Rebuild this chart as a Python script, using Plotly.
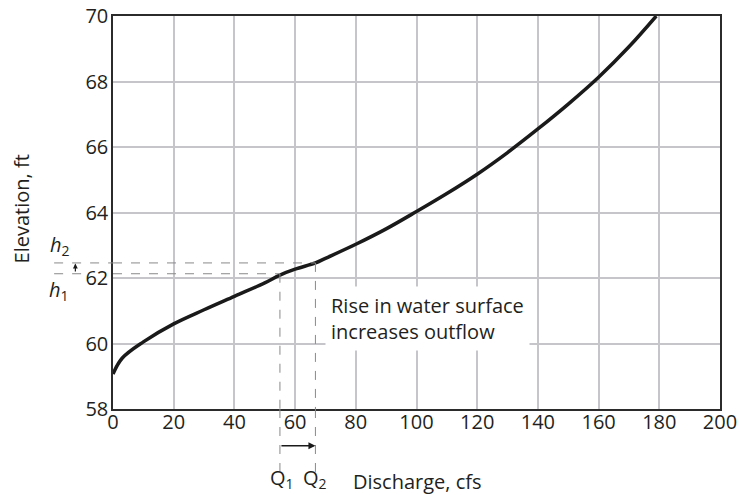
import plotly.graph_objects as go

# Rating curve: discharge (cfs) vs elevation (ft)
discharge = [0, 3, 10, 20, 30, 40, 50, 55, 60, 66.7, 70, 80, 90, 100, 110, 120, 130, 140, 150, 160, 170, 179]
elevation = [59.07, 59.55, 60.05, 60.6, 61.03, 61.44, 61.85, 62.09, 62.27, 62.46, 62.6, 63.03, 63.5, 64.03, 64.58, 65.17, 65.83, 66.55, 67.31, 68.13, 69.06, 70.0]

x_ticks = [0, 20, 40, 60, 80, 100, 120, 140, 160, 180, 200]
y_ticks = [58, 60, 62, 64, 66, 68, 70]

Q1, Q2 = 55.0, 66.7
h1, h2 = 62.13, 62.46

FONT = "'Open Sans', sans-serif"
FS = 20
TXT = "#231f20"
DASH = "#8a8a8a"

fig = go.Figure()
fig.add_trace(go.Scatter(x=discharge, y=elevation, mode="lines",
                         line=dict(color="#1a1a1a", width=3.5, shape="spline", smoothing=1.0),
                         hoverinfo="skip", showlegend=False))

dash_line = dict(color=DASH, width=1, dash="dash")
shapes = [
    # h1 dashed line (split around the 62 tick label)
    dict(type="line", xref="paper", yref="y", x0=-0.097, x1=-0.05, y0=h1, y1=h1, line=dash_line),
    dict(type="line", xref="x", yref="y", x0=0, x1=Q1, y0=h1, y1=h1, line=dash_line),
    # h2 dashed line
    dict(type="line", xref="paper", yref="y", x0=-0.097, x1=0, y0=h2, y1=h2, line=dash_line),
    dict(type="line", xref="x", yref="y", x0=0, x1=Q2, y0=h2, y1=h2, line=dash_line),
    # Q1, Q2 vertical dashed lines
    dict(type="line", xref="x", yref="y", x0=Q1, x1=Q1, y0=h1, y1=58, line=dash_line),
    dict(type="line", xref="x", yref="paper", x0=Q1, x1=Q1, y0=0, y1=-0.16, line=dash_line),
    dict(type="line", xref="x", yref="y", x0=Q2, x1=Q2, y0=h2, y1=58, line=dash_line),
    dict(type="line", xref="x", yref="paper", x0=Q2, x1=Q2, y0=0, y1=-0.16, line=dash_line),
]

lab_font = dict(family=FONT, size=FS, color=TXT)
annotations = [
    # arrow Q1 -> Q2
    dict(xref="x", yref="paper", x=Q2, y=-0.0934, axref="x", ax=Q1, ayref="pixel", ay=0,
         showarrow=True, arrowhead=2, arrowsize=1, arrowwidth=1.4, arrowcolor="#1a1a1a", text=""),
    # arrow h1 -> h2
    dict(xref="paper", yref="y", x=-0.062, y=h2 - 0.02, ax=0, ayref="y", ay=h1 + 0.02, axref="pixel",
         showarrow=True, arrowhead=2, arrowsize=0.8, arrowwidth=1.2, arrowcolor="#1a1a1a", text=""),
    dict(xref="paper", yref="paper", x=(61 - 113.6) / 607, y=(409 - 245) / 393,
         xanchor="center", yanchor="middle", text="<i>h</i><sub>2</sub>",
         showarrow=False, font=lab_font),
    dict(xref="paper", yref="paper", x=(60 - 113.6) / 607, y=(409 - 290) / 393,
         xanchor="center", yanchor="middle", text="<i>h</i><sub>1</sub>",
         showarrow=False, font=lab_font),
    dict(xref="x", yref="paper", x=Q1 + 0.8, y=(409 - 479) / 393, xanchor="center", yanchor="middle",
         text="Q<sub>1</sub>", showarrow=False, font=lab_font),
    dict(xref="x", yref="paper", x=Q2 - 0.3, y=(409 - 479) / 393, xanchor="center", yanchor="middle",
         text="Q<sub>2</sub>", showarrow=False, font=lab_font),
    dict(xref="x", yref="paper", x=100.4, y=(409 - 481) / 393, xanchor="center", yanchor="middle",
         text="Discharge, cfs", showarrow=False, font=lab_font),
    dict(xref="paper", yref="paper", x=(22 - 113.6) / 607, y=(409 - 209) / 393,
         xanchor="center", yanchor="middle", text="Elevation, ft", textangle=-90,
         showarrow=False, font=lab_font),
    dict(xref="x", yref="y", x=70.0, y=60.77, xanchor="left", yanchor="middle", align="left",
         text="Rise in water surface<br>increases outflow", showarrow=False,
         bgcolor="white", borderpad=5, font=lab_font),
]

axis_common = dict(showgrid=True, gridcolor="#c6c6ca", gridwidth=1.5, automargin=False,
                   showline=True, linecolor="#2b2b2b", linewidth=1.5, mirror=True,
                   ticks="", zeroline=False, tickfont=dict(size=FS),
                   ticklabeloverflow="allow")

fig.update_layout(
    width=740, height=495,
    margin=dict(l=113, r=20, t=16, b=86, autoexpand=False),
    paper_bgcolor="white", plot_bgcolor="white",
    font=dict(family=FONT, size=FS, color=TXT),
    shapes=shapes, annotations=annotations,
    xaxis=dict(range=[0, 200], tickvals=x_ticks, ticktext=[str(v) for v in x_ticks],
               ticklabelstandoff=-6, **axis_common),
    yaxis=dict(range=[58, 70], tickvals=y_ticks, ticktext=[str(v) for v in y_ticks],
               ticklabelstandoff=-1, **axis_common),
)

fig.write_html("out.html", config={"displayModeBar": False},
               post_script="document.body.style.margin='0';document.body.style.overflow='hidden';")
